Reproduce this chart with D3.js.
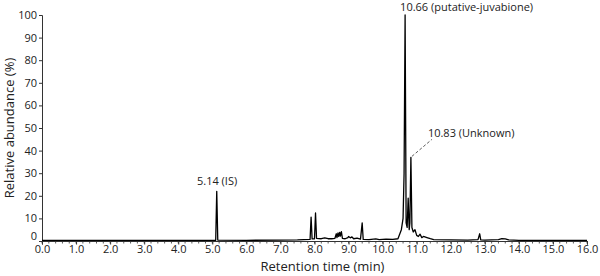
<!DOCTYPE html>
<html><head><meta charset="utf-8">
<script src="https://cdn.jsdelivr.net/npm/d3@7"></script>
<style>body{margin:0;background:#fff}svg{display:block}text{font-family:"Open Sans",sans-serif;fill:#222}</style>
</head><body>
<script>
const times = [0.0,1.0,2.0,3.0,4.0,5.0,5.10,5.13,5.16,6.0,7.0,7.5,7.87,7.90,7.93,8.00,8.03,8.06,8.2,8.3,8.4,8.5,8.6,8.64,8.66,8.69,8.71,8.74,8.76,8.79,8.82,8.9,8.98,9.0,9.05,9.1,9.15,9.25,9.35,9.40,9.43,9.6,9.8,9.9,10.1,10.3,10.45,10.5,10.55,10.6,10.63,10.66,10.69,10.72,10.75,10.78,10.80,10.83,10.86,10.9,10.95,11.0,11.05,11.1,11.15,11.2,11.3,11.4,11.5,12.0,12.5,12.8,12.85,12.88,13.0,13.4,13.5,13.6,13.7,14.0,15.0,16.0];
const abundance = [0.3,0.3,0.3,0.3,0.3,0.3,0.3,22,0.4,0.3,0.4,0.5,0.7,10.6,0.9,1.0,12.4,1.2,1.0,1.4,1.0,1.0,1.2,3.2,1.5,3.6,2.0,3.8,2.2,4.1,1.2,1.0,1.5,2.0,1.4,1.8,1.0,1.3,0.8,8.0,0.7,0.6,0.9,0.6,0.8,0.7,1.0,3.0,5,10,30,100,8,6,19,5,8,37,6,4,5,2.5,2,3,1.5,2,1.5,1.0,0.6,0.5,0.4,0.6,3.2,0.5,0.4,0.6,1.0,0.9,0.5,0.3,0.3,0.3];
const xTicks = [0,1,2,3,4,5,6,7,8,9,10,11,12,13,14,15,16];
const yTicks = [0,10,20,30,40,50,60,70,80,90,100];
const labels = [
  {text:"10.66 (putative-juvabione)", t:10.66, v:100},
  {text:"10.83 (Unknown)", t:10.83, v:37},
  {text:"5.14 (IS)", t:5.14, v:22}
];

const W=600,H=276, m={l:42,r:13,t:15,b:35};
const svg=d3.select("body").append("svg").attr("width",W).attr("height",H);
const x=d3.scaleLinear().domain([0,16]).range([m.l,W-m.r]);
const y=d3.scaleLinear().domain([0,100]).range([H-m.b,m.t]);
const data=times.map((t,i)=>[t,abundance[i]]);

// minor x ticks
const minor=d3.range(0,16.0001,0.2);
svg.append("g").selectAll("line").data(minor).join("line")
  .attr("x1",d=>x(d)).attr("x2",d=>x(d)).attr("y1",y(0)).attr("y2",y(0)+2.5)
  .attr("stroke","#333").attr("stroke-width",0.8);

const xa=svg.append("g").attr("transform",`translate(0,${y(0)})`)
  .call(d3.axisBottom(x).tickValues(xTicks).tickFormat(d3.format(".1f")).tickSizeOuter(0).tickSize(3.5).tickPadding(1));
xa.selectAll("text").style("font-size","11px");
const ya=svg.append("g").attr("transform",`translate(${m.l},0)`)
  .call(d3.axisLeft(y).tickValues(yTicks).tickSizeOuter(0).tickSize(3).tickPadding(2));
ya.selectAll("text").style("font-size","11px");
ya.selectAll(".tick text").filter(d=>d===0).attr("dy","-0.1em");
svg.selectAll(".domain,.tick line").attr("stroke","#333");

svg.append("path").datum(data).attr("fill","none").attr("stroke","#000").attr("stroke-width",1.3)
  .attr("stroke-linejoin","round")
  .attr("d",d3.line().x(d=>x(d[0])).y(d=>y(d[1])));

// annotations
svg.append("text").attr("x",x(labels[0].t)-5).attr("y",y(labels[0].v)-4).style("font-size","11px").text(labels[0].text);
svg.append("text").attr("x",x(labels[1].t)+17).attr("y",y(labels[1].v)-20).style("font-size","11px").text(labels[1].text);
svg.append("line").attr("x1",x(labels[1].t)+1).attr("y1",y(labels[1].v)-1).attr("x2",x(labels[1].t)+21).attr("y2",y(labels[1].v)-18)
  .attr("stroke","#333").attr("stroke-width",0.8).attr("stroke-dasharray","3,2");
svg.append("text").attr("x",x(labels[2].t)).attr("y",y(labels[2].v)-6).attr("text-anchor","middle").style("font-size","11px").text(labels[2].text);

svg.append("text").attr("x",(m.l+W-m.r)/2+8).attr("y",H-5).attr("text-anchor","middle").style("font-size","13px").text("Retention time (min)");
svg.append("text").attr("transform",`translate(14,${(m.t+H-m.b)/2}) rotate(-90)`).attr("text-anchor","middle").style("font-size","13px").text("Relative abundance (%)");
</script>
</body></html>
